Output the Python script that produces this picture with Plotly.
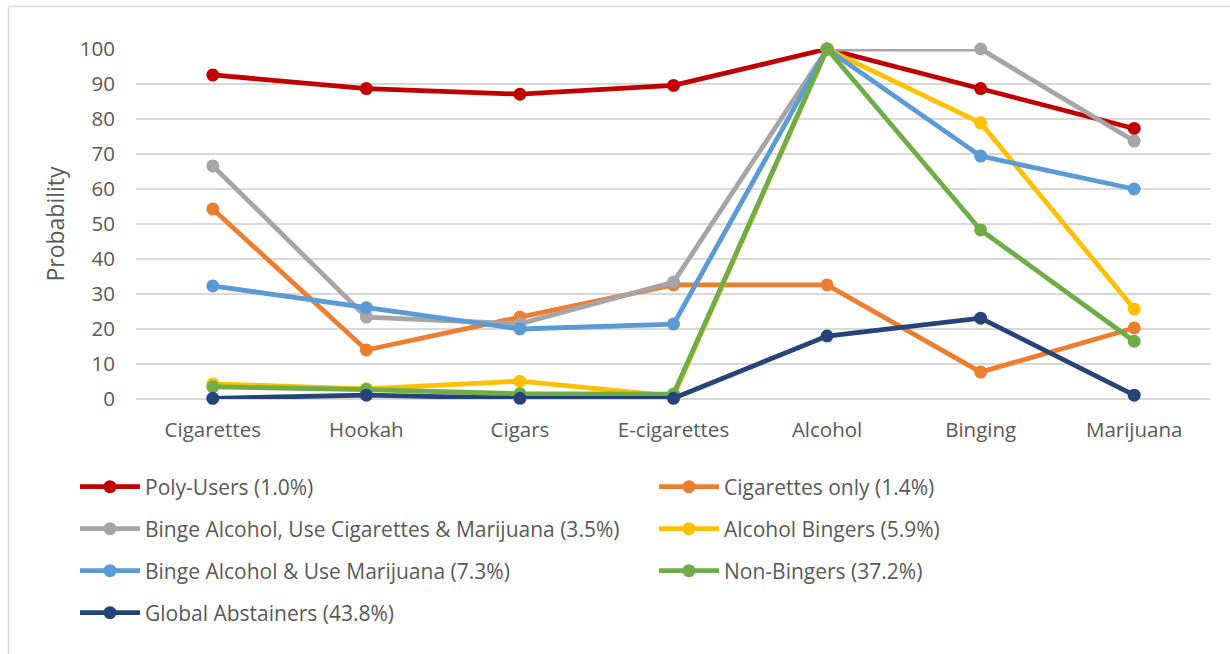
import plotly.graph_objects as go

# Substance categories along the x axis
categories = ["Cigarettes", "Hookah", "Cigars", "E-cigarettes", "Alcohol", "Binging", "Marijuana"]

# Class names with their share of the sample
series_names = [
    "Poly-Users (1.0%)",
    "Cigarettes only (1.4%)",
    "Binge Alcohol, Use Cigarettes & Marijuana (3.5%)",
    "Alcohol Bingers (5.9%)",
    "Binge Alcohol & Use Marijuana (7.3%)",
    "Non-Bingers (37.2%)",
    "Global Abstainers (43.8%)",
]

# Item-response probabilities (%) per class
poly_users = [92.6, 88.7, 87.1, 89.6, 100, 88.7, 77.3]
cigarettes_only = [54.3, 14.0, 23.4, 32.6, 32.6, 7.7, 20.3]
binge_cig_mar = [66.6, 23.4, 21.5, 33.4, 100, 100, 73.7]
alcohol_bingers = [4.3, 2.9, 5.1, 0.8, 100, 78.9, 25.7]
binge_mar = [32.3, 26.1, 20.0, 21.4, 100, 69.4, 60.0]
non_bingers = [3.5, 2.7, 1.5, 1.4, 100, 48.3, 16.5]
global_abstainers = [0.2, 1.1, 0.2, 0.2, 18.0, 23.1, 1.1]

series_values = [poly_users, cigarettes_only, binge_cig_mar, alcohol_bingers,
                 binge_mar, non_bingers, global_abstainers]
colors = ["#C00000", "#ED7D31", "#A5A5A5", "#FFC000", "#5B9BD5", "#70AD47", "#264478"]

y_ticks = [0, 10, 20, 30, 40, 50, 60, 70, 80, 90, 100]

FONT = "Open Sans"
TEXT = "#595959"

W, H = 1230, 654
ML, MR, MT, MB = 136, 19, 49, 255
plot_w = W - ML - MR
plot_h = H - MT - MB

# Legend entries laid out in two columns, four rows (pixel anchors)
col_x = [75, 654]
row_y = [487, 529, 571, 613]

fig = go.Figure()
legend_layout = {}
for i, (name, vals, col) in enumerate(zip(series_names, series_values, colors)):
    key = "legend" if i == 0 else f"legend{i + 1}"
    fig.add_trace(go.Scatter(
        x=categories, y=vals, name=name, mode="lines+markers",
        line=dict(color=col, width=4.8),
        marker=dict(color=col, size=13),
        cliponaxis=False,
        legend=key,
    ))
    legend_layout[key] = dict(
        orientation="h",
        x=(col_x[i % 2] - ML) / plot_w,
        xanchor="left",
        y=(H - MB - row_y[i // 2]) / plot_h,
        yanchor="middle",
        font=dict(family=FONT, size=21, color=TEXT),
        bgcolor="rgba(0,0,0,0)",
        itemwidth=60,
    )

fig.update_layout(
    width=W, height=H,
    margin=dict(l=ML, r=MR, t=MT, b=MB),
    paper_bgcolor="white", plot_bgcolor="white",
    font=dict(family=FONT, size=21, color=TEXT),
    showlegend=True,
    xaxis=dict(
        showgrid=False, showline=False, zeroline=False,
        tickfont=dict(family=FONT, size=20.5, color=TEXT),
        ticklabelstandoff=16,
        range=[-0.5, 6.5],
    ),
    yaxis=dict(
        range=[0, 100], tickvals=y_ticks,
        showgrid=True, gridcolor="#D9D9D9", gridwidth=1.5,
        zeroline=True, zerolinecolor="#D9D9D9", zerolinewidth=1.5,
        showline=False,
        tickfont=dict(family=FONT, size=20.5, color=TEXT),
        ticklabelstandoff=20,
        title=dict(text="Probability", font=dict(family=FONT, size=23, color=TEXT), standoff=8),
    ),
    shapes=[
        # chart frame: top edge and left edge
        dict(type="line", xref="paper", yref="paper",
             x0=(8.5 - ML) / plot_w, x1=(W - ML) / plot_w,
             y0=(H - MB - 6.5) / plot_h, y1=(H - MB - 6.5) / plot_h,
             line=dict(color="#D9D9D9", width=1.5), layer="below"),
        dict(type="line", xref="paper", yref="paper",
             x0=(8.5 - ML) / plot_w, x1=(8.5 - ML) / plot_w,
             y0=(H - MB - 6.5) / plot_h, y1=(H - MB - H) / plot_h,
             line=dict(color="#D9D9D9", width=1.5), layer="below"),
    ],
    **legend_layout,
)

fig.write_html("out.html")
